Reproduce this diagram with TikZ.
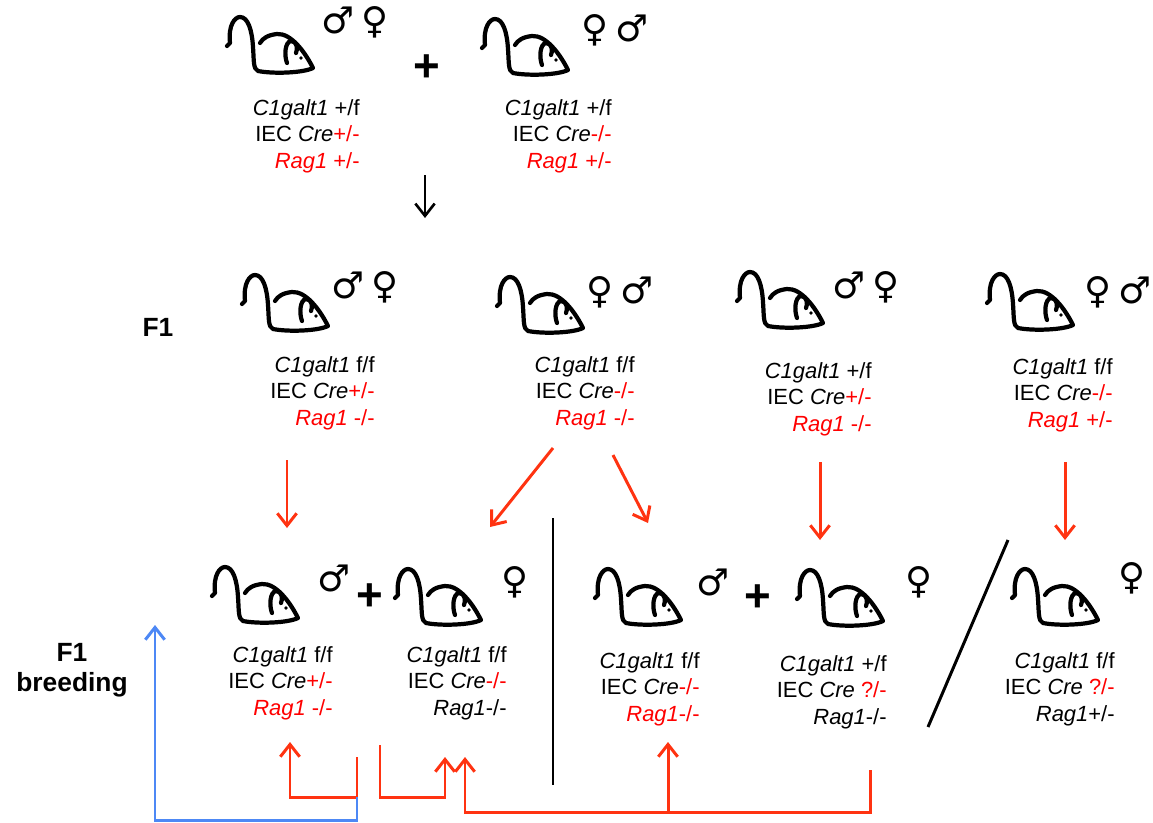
\documentclass[tikz,border=0pt]{standalone}
\usepackage{fontspec}
\setmainfont{Liberation Sans}
\newfontfamily\symfont{DejaVu Sans}
\usetikzlibrary{arrows.meta, positioning}

\definecolor{arrowred}{HTML}{FF3311}
\definecolor{loopblue}{HTML}{4D88F5}
\newcommand{\rd}[1]{\textcolor{red}{#1}}
\newcommand{\gene}[1]{\textit{#1}}

% a mouse drawn as one thick outline: tail, back, nose, belly
\tikzset{
    mouse/.pic={
        \draw[line width=2.4pt, line cap=round, line join=round]
            (-56,-9) -- (-53,-12) .. controls (-55,-30) and (-48,-38) .. (-43,-38)
            .. controls (-35,-38) and (-31,-25) .. (-30,-8)
            .. controls (-29,5) and (-30,14) .. (-25,16)
            .. controls (-10,19) and (20,18) .. (30,13)
            .. controls (22,-3) and (8,-22) .. (-6,-21)
            .. controls (-15,-20) and (-20,-17) .. (-23,-12);
        \draw[line width=2.4pt, line cap=round]
            (4,8) .. controls (1,0) and (2,-13) .. (8,-14)
            .. controls (14,-14) and (15,-6) .. (13,-2);
        \fill (18,3) circle (1.8);
    }
}

\begin{document}
\begin{tikzpicture}[x=0.02cm, y=-0.02cm,
    geno/.style={align=right, anchor=base east, inner sep=0pt,
        font=\fontsize{12.5}{15}\selectfont},
    sex/.style={inner sep=0pt, font=\symfont\fontsize{21}{21}\selectfont},
    plus/.style={inner sep=0pt, font=\bfseries\fontsize{26}{26}\selectfont},
    label/.style={inner sep=0pt, align=center, font=\bfseries\fontsize{15}{17}\selectfont},
    redarrow/.style={draw=arrowred, line width=1.7pt, -{Straight Barb[length=7pt, width=11pt]}},
    blackarrow/.style={draw=black, line width=1.5pt, -{Straight Barb[length=7pt, width=11pt]}},
    divider/.style={draw=black, line width=1.7pt}]
    \useasboundingbox (0,0) rectangle (1153,822);

    % parents
    \pic at (283,55) {mouse};
    \node[sex] (s1) at (355,22) {♂\,♀};
    \node[geno] (p1) at (360,168) {\gene{C1galt1} +/f\\IEC \gene{Cre}\rd{+/-}\\\rd{\gene{Rag1} +/-}};
    \node[plus] (plus1) at (427,68) {+};
    \pic at (538,57) {mouse};
    \node[sex] (s2) at (615,30) {♀\,♂};
    \node[geno] (p2) at (612,168) {\gene{C1galt1} +/f\\IEC \gene{Cre}\rd{-/-}\\\rd{\gene{Rag1} +/-}};

    \coordinate (down1) at (425,175);
    \coordinate (down2) at (425,218);
    \draw[blackarrow] (down1) -- (down2);

    % F1 generation
    \node[label] (f1) at (158,327) {F1};
    \pic at (298,313) {mouse};
    \node[sex] (s3) at (365,287) {♂\,♀};
    \node[geno] (fa) at (375,425) {\gene{C1galt1} f/f\\IEC \gene{Cre}\rd{+/-}\\\rd{\gene{Rag1} -/-}};
    \pic at (553,315) {mouse};
    \node[sex] (s4) at (620,292) {♀\,♂};
    \node[geno] (fb) at (635,425) {\gene{C1galt1} f/f\\IEC \gene{Cre}\rd{-/-}\\\rd{\gene{Rag1} -/-}};
    \pic at (793,310) {mouse};
    \node[sex] (s5) at (866,287) {♂\,♀};
    \node[geno] (fc) at (872,431) {\gene{C1galt1} +/f\\IEC \gene{Cre}\rd{+/-}\\\rd{\gene{Rag1} -/-}};
    \pic at (1043,312) {mouse};
    \node[sex] (s6) at (1118,292) {♀\,♂};
    \node[geno] (fd) at (1113,427) {\gene{C1galt1} f/f\\IEC \gene{Cre}\rd{-/-}\\\rd{\gene{Rag1} +/-}};

    % crosses out of F1
    \coordinate (a1) at (287,460);  \coordinate (a2) at (287,528);
    \coordinate (b1) at (553,448);  \coordinate (b2) at (490,527);
    \coordinate (c1) at (613,455);  \coordinate (c2) at (648,523);
    \coordinate (d1) at (820,462);  \coordinate (d2) at (820,540);
    \coordinate (e1) at (1065,462); \coordinate (e2) at (1065,540);
    \draw[redarrow] (a1) -- (a2);
    \draw[redarrow] (b1) -- (b2);
    \draw[redarrow] (c1) -- (c2);
    \draw[redarrow] (d1) -- (d2);
    \draw[redarrow] (e1) -- (e2);

    % F1 breeding
    \node[label] (f1b) at (72,670) {F1\\breeding};
    \pic at (268,605) {mouse};
    \node[sex] (s7) at (334,578) {♂};
    \node[geno] (ba) at (333,715) {\gene{C1galt1} f/f\\IEC \gene{Cre}\rd{+/-}\\\rd{\gene{Rag1} -/-}};
    \node[plus] (plus2) at (370,597) {+};
    \pic at (451,607) {mouse};
    \node[sex] (s8) at (515,582) {♀};
    \node[geno] (bb) at (507,715) {\gene{C1galt1} f/f\\IEC \gene{Cre}\rd{-/-}\\\gene{Rag1}-/-};
    \pic at (651,607) {mouse};
    \node[sex] (s9) at (713,582) {♂};
    \node[geno] (bc) at (700,721) {\gene{C1galt1} f/f\\IEC \gene{Cre}\rd{-/-}\\\rd{\gene{Rag1}-/-}};
    \node[plus] (plus3) at (758,598) {+};
    \pic at (853,608) {mouse};
    \node[sex] (s10) at (919,582) {♀};
    \node[geno] (bd) at (887,724) {\gene{C1galt1} +/f\\IEC \gene{Cre} \rd{?/-}\\\gene{Rag1}-/-};
    \pic at (1068,607) {mouse};
    \node[sex] (s11) at (1132,578) {♀};
    \node[geno] (be) at (1115,721) {\gene{C1galt1} f/f\\IEC \gene{Cre} \rd{?/-}\\\gene{Rag1}+/-};

    % dividers
    \coordinate (v1) at (553,518);   \coordinate (v2) at (553,785);
    \coordinate (w1) at (1008,540);  \coordinate (w2) at (928,727);
    \draw[divider] (v1) -- (v2);
    \draw[divider] (w1) -- (w2);

    % back-crosses
    \coordinate (r1) at (357,757);  \coordinate (r1t) at (290,742);
    \coordinate (r2) at (380,745);  \coordinate (r2t) at (445,757);
    \coordinate (r3) at (870,770);  \coordinate (r3t) at (465,757);
    \coordinate (r4t) at (668,742);
    \coordinate (bl) at (155,625);
    \draw[redarrow] (r1) -- (357,797) -| (r1t);
    \draw[draw=loopblue, line width=1.7pt, -{Straight Barb[length=7pt, width=11pt]}]
        (357,797) -- (357,820) -| (bl);
    \draw[redarrow] (r2) -- (380,797) -| (r2t);
    \draw[redarrow] (r3) -- (870,812) -| (r3t);
    \draw[redarrow] (668,812) -- (r4t);
\end{tikzpicture}
\end{document}
